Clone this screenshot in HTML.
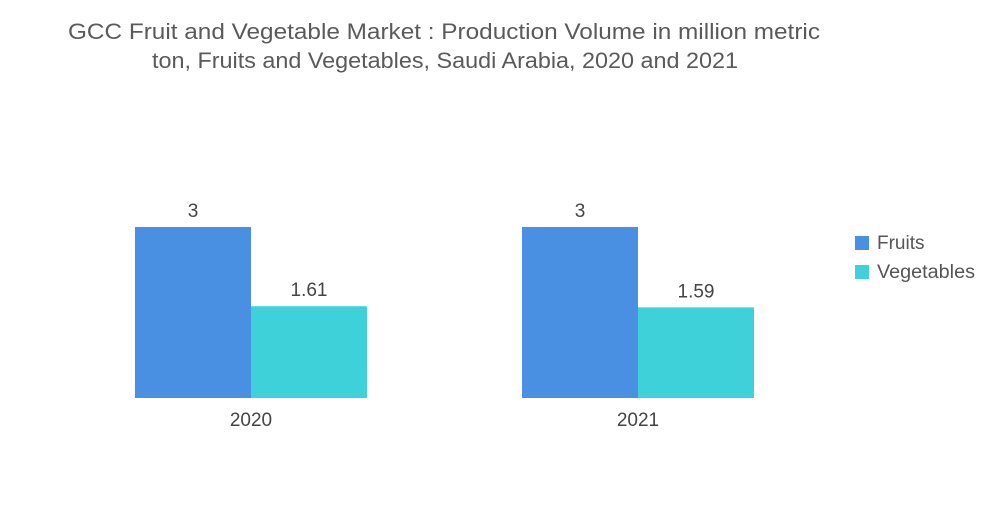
<!DOCTYPE html>
<html><head><meta charset="utf-8"><style>
body{margin:0;background:#fff;width:1000px;height:504px;overflow:hidden;font-family:"Liberation Sans",sans-serif}
</style></head><body>
<svg width="1000" height="504">
<text x="444" y="39" text-anchor="middle" font-size="22" fill="#5a5a5a" textLength="752" lengthAdjust="spacingAndGlyphs">GCC Fruit and Vegetable Market : Production Volume in million metric</text>
<text x="445" y="68" text-anchor="middle" font-size="22" fill="#5a5a5a" textLength="586" lengthAdjust="spacingAndGlyphs">ton, Fruits and Vegetables, Saudi Arabia, 2020 and 2021</text>
<g id="bars"></g>
<rect x="855" y="236" width="14" height="14" fill="#4a90e2"/>
<text x="877" y="249" font-size="19" fill="#555">Fruits</text>
<rect x="855" y="265" width="14" height="14" fill="#3fd1d9"/>
<text x="877" y="278" font-size="19" fill="#555" textLength="98" lengthAdjust="spacingAndGlyphs">Vegetables</text>
</svg>
<script>
const categories=["2020","2021"];
const fruits=[3,3];
const vegetables=[1.61,1.59];
const fruitLabels=["3","3"];
const vegLabels=["1.61","1.59"];
const g=document.getElementById('bars');
const NS="http://www.w3.org/2000/svg";
const base=398, scale=57;
const y=v=>base-v*scale;
const groupX=i=>135+i*387;
const bw=116;
function mk(t,a){const e=document.createElementNS(NS,t);for(const k in a)e.setAttribute(k,a[k]);g.appendChild(e);return e;}
categories.forEach((c,i)=>{
 const x=groupX(i);
 const series=[[fruits[i],fruitLabels[i],"#4a90e2","fruits"],[vegetables[i],vegLabels[i],"#3fd1d9","vegetables"]];
 series.forEach((s,j)=>{
  const r=mk('rect',{x:x+j*bw,y:y(s[0]),width:bw,height:s[0]*scale,fill:s[2]});
  
  
  const t=mk('text',{x:x+j*bw+bw/2,y:y(s[0])-10,'text-anchor':'middle','font-size':'19',fill:'#444'});
  t.textContent=s[1];
  
  
 });
 const l=mk('text',{x:x+bw,y:base+28,'text-anchor':'middle','font-size':'19',fill:'#444'});
 l.textContent=c;
 
 
});
</script>
</body></html>
